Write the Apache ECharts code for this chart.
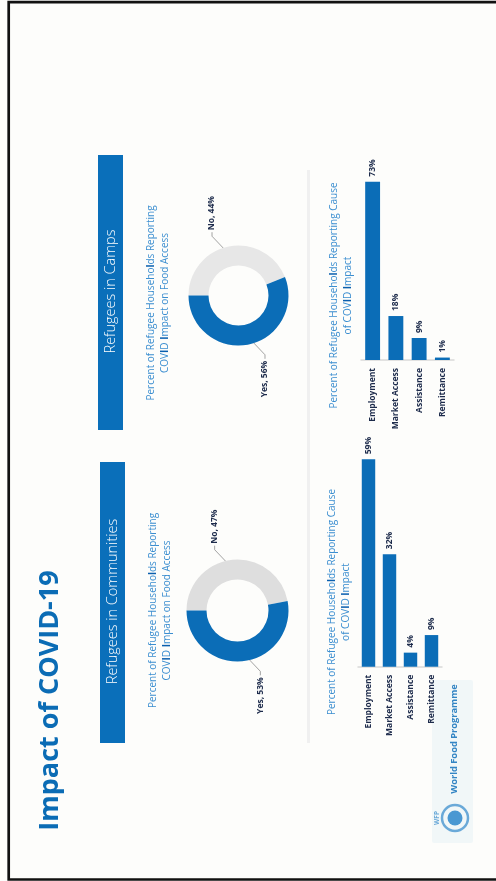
<!DOCTYPE html>
<html>
<head>
<meta charset="utf-8">
<title>Impact of COVID-19</title>
<script src="https://cdn.jsdelivr.net/npm/echarts@6/dist/echarts.min.js"></script>
<style>
  html, body { margin: 0; padding: 0; background: #fdfdfb; overflow: hidden; }
  #chart { width: 496px; height: 881px; }
</style>
</head>
<body>
<div id="chart"></div>
<script>
// Survey results (percent of refugee households)
const causeCategories = ['Employment', 'Market Access', 'Assistance', 'Remittance'];
const campsCause = [73, 18, 9, 1];
const communitiesCause = [59, 32, 4, 9];

const foodAccessNames = ['No', 'Yes'];
const campsFoodAccess = [44, 56];
const communitiesFoodAccess = [47, 53];

const BLUE = '#0b6db7';
const NAVY = '#1d2b4b';
const SUB = '#3b8ed0';
const FONT = '"Open Sans", "Noto Sans", sans-serif';

const chart = echarts.init(document.getElementById('chart'), null, { renderer: 'canvas' });

// Leader lines and labels for a donut whose slices run clockwise from startAngle.
function donutLabels(values, startAngle, cx, cy, rMid) {
  const total = values.reduce((a, b) => a + b, 0);
  return function (params) {
    const i = params.dataIndex;
    let acc = 0;
    for (let k = 0; k < i; k++) acc += values[k];
    const mid = (startAngle - (acc + values[i] / 2) / total * 360) * Math.PI / 180;
    const ux = Math.cos(mid), uy = -Math.sin(mid);
    const sx = ux < 0 ? -1 : 1, sy = uy < 0 ? -1 : 1;
    const start = [cx + ux * rMid, cy + uy * rMid];
    const elbow = [start[0] + sx * 19, start[1] + sy * 20];
    const end = [elbow[0], elbow[1] + sy * 4];
    return {
      x: end[0],
      y: end[1] + sy * 2,
      rotate: 90,
      align: sy < 0 ? 'left' : 'right',
      verticalAlign: 'middle',
      labelLinePoints: [start, elbow, end]
    };
  };
}

function donut(values, cx, cy, radius, grey) {
  const startAngle = 180;
  return {
    type: 'pie',
    center: [cx, cy],
    radius: radius,
    startAngle: startAngle,
    clockwise: true,
    avoidLabelOverlap: false,
    silent: true,
    animation: false,
    data: foodAccessNames.map((n, i) => ({
      name: n,
      value: values[i],
      itemStyle: { color: n === 'Yes' ? BLUE : grey }
    })),
    label: {
      show: true,
      position: 'outside',
      formatter: '{b}, {c}%',
      color: NAVY,
      fontFamily: FONT,
      fontWeight: 'bold',
      fontSize: 8.5
    },
    labelLine: { show: true, lineStyle: { color: '#8c8c8c', width: 0.8 } },
    labelLayout: donutLabels(values, startAngle, cx, cy, (radius[0] + radius[1]) / 2)
  };
}

function barSeries(values, axisIndex) {
  return {
    type: 'bar',
    xAxisIndex: axisIndex,
    yAxisIndex: axisIndex,
    data: values,
    barWidth: '64%',
    silent: true,
    animation: false,
    itemStyle: { color: BLUE },
    label: {
      show: true,
      position: 'top',
      distance: 5,
      rotate: 90,
      align: 'left',
      verticalAlign: 'middle',
      formatter: '{c}%',
      color: NAVY,
      fontFamily: FONT,
      fontWeight: 'bold',
      fontSize: 8.5
    }
  };
}

function catAxis(gridIndex) {
  return {
    type: 'category',
    gridIndex: gridIndex,
    data: causeCategories,
    axisLine: { show: true, lineStyle: { color: '#d9d9d9', width: 1.5 } },
    axisTick: { show: false },
    axisLabel: {
      interval: 0,
      rotate: 90,
      margin: 8,
      color: NAVY,
      fontFamily: FONT,
      fontWeight: 'bold',
      fontSize: 8.5
    }
  };
}

function valAxis(gridIndex, max) {
  return {
    type: 'value',
    gridIndex: gridIndex,
    min: 0,
    max: max,
    show: false,
    splitLine: { show: false }
  };
}

function vText(x, y, text, style) {
  return {
    type: 'text',
    x: x,
    y: y,
    rotation: Math.PI / 2,
    silent: true,
    style: Object.assign({
      text: text,
      align: 'center',
      verticalAlign: 'middle',
      textAlign: 'center',
      textVerticalAlign: 'middle',
      fontFamily: FONT
    }, style)
  };
}

const subRich = { b: { fontWeight: 'bold', fill: '#0a5fae', color: '#0a5fae', fontSize: 10, fontFamily: FONT } };
const subStyle = { fill: SUB, fontSize: 10, lineHeight: 14, rich: subRich };

const option = {
  backgroundColor: '#fdfdfb',
  animation: false,
  grid: [
    { left: 361, width: 93, top: 164.6, height: 195.4 },
    { left: 358, width: 84, top: 455.8, height: 210.9 }
  ],
  xAxis: [catAxis(0), catAxis(1)],
  yAxis: [valAxis(0, 80), valAxis(1, 60)],
  series: [
    donut(campsFoodAccess, 238.5, 295.5, [30, 50], '#e7e7e7'),
    donut(communitiesFoodAccess, 237.5, 610.5, [31, 51], '#dedede'),
    barSeries(campsCause, 0),
    barSeries(communitiesCause, 1)
  ],
  graphic: [
    // slide frame
    { type: 'rect', silent: true, shape: { x: 8.7, y: 2.2, width: 600, height: 877.3 },
      style: { fill: 'none', stroke: '#111', lineWidth: 2.7 } },
    // divider between donuts and bars
    { type: 'line', silent: true, shape: { x1: 308.5, y1: 170, x2: 308.5, y2: 743 },
      style: { stroke: '#f0f0f0', lineWidth: 3 } },
    // title
    vText(50.5, 700.5, 'Impact of COVID-19', { fill: '#0b6cb5', fontSize: 27, fontWeight: 'bold' }),
    // section headers
    { type: 'rect', silent: true, shape: { x: 98, y: 155, width: 25, height: 275 }, style: { fill: '#0a6fba' } },
    vText(110.5, 291.5, 'Refugees in Camps', { fill: '#ffffff', fontSize: 14.5, fontWeight: 300 }),
    { type: 'rect', silent: true, shape: { x: 100, y: 462, width: 25, height: 281 }, style: { fill: '#0a6fba' } },
    vText(112.5, 601.5, 'Refugees in Communities', { fill: '#ffffff', fontSize: 14.5, fontWeight: 300 }),
    // chart subtitles
    vText(158, 303, 'Percent of Refugee Househo{b|l}ds Reporting\nCOV{b|I}D {b|I}mpact on Food Access', subStyle),
    vText(160, 610.5, 'Percent of Refugee Househo{b|l}ds Reporting\nCOV{b|I}D {b|I}mpact on Food Access', subStyle),
    vText(341, 295.5, 'Percent of Refugee Househo{b|l}ds Reporting Cause\nof COV{b|I}D {b|I}mpact', subStyle),
    vText(339, 602, 'Percent of Refugee Househo{b|l}ds Reporting Cause\nof COV{b|I}D {b|I}mpact', subStyle),
    // WFP logo
    { type: 'rect', silent: true, shape: { x: 432, y: 680, width: 41, height: 163, r: 2 }, style: { fill: '#f1f7f8' } },
    vText(454, 739, 'World Food Programme', { fill: '#3385c4', fontSize: 9.3, fontWeight: 'bold' }),
    { type: 'circle', silent: true, shape: { cx: 455, cy: 818, r: 13 }, style: { fill: 'none', stroke: '#6aa9d8', lineWidth: 2.5 } },
    { type: 'circle', silent: true, shape: { cx: 455, cy: 818, r: 7.5 }, style: { fill: '#4a98d2' } },
    vText(437.5, 818, 'WFP', { fill: '#6aa9d8', fontSize: 6.5, fontWeight: 'bold' })
  ]
};

chart.setOption(option);
</script>
</body>
</html>
